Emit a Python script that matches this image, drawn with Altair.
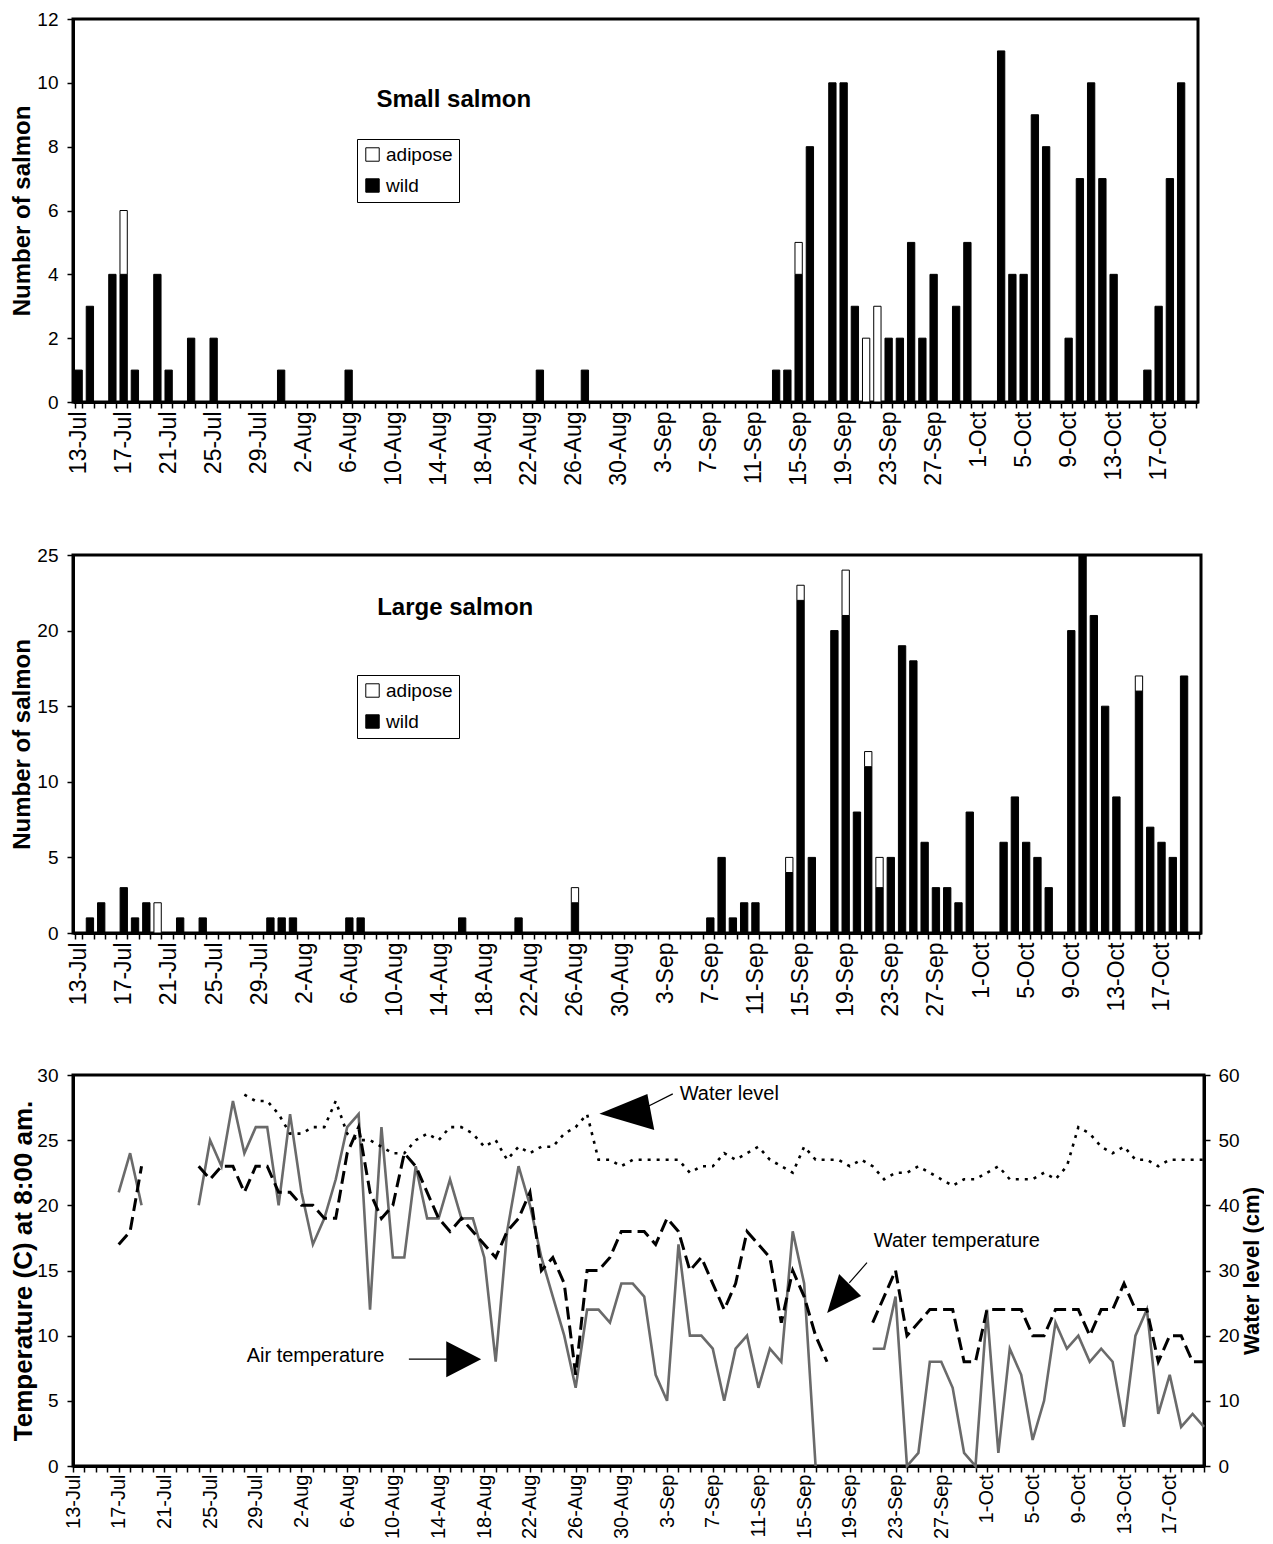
import datetime as dt
import altair as alt
import pandas as pd

FONT = "Liberation Sans"
START = dt.date(2001, 7, 13)
DATES = [f"{d.day}-{d.strftime('%b')}" for d in (START + dt.timedelta(days=i) for i in range(100))]
DAYS = list(range(100))

# ---- Small salmon (counts per day, index 0 = 13-Jul) ----
SMALL_WILD = [1, 3, 0, 4, 4, 1, 0, 4, 1, 0,
              2, 0, 2, 0, 0, 0, 0, 0, 1, 0,
              0, 0, 0, 0, 1, 0, 0, 0, 0, 0,
              0, 0, 0, 0, 0, 0, 0, 0, 0, 0,
              0, 1, 0, 0, 0, 1, 0, 0, 0, 0,
              0, 0, 0, 0, 0, 0, 0, 0, 0, 0,
              0, 0, 1, 1, 4, 8, 0, 10, 10, 3,
              0, 0, 2, 2, 5, 2, 4, 0, 3, 5,
              0, 0, 11, 4, 4, 9, 8, 0, 2, 7,
              10, 7, 4, 0, 0, 1, 3, 7, 10, 0]
SMALL_ADIPOSE = [0, 0, 0, 0, 2, 0, 0, 0, 0, 0,
                 0, 0, 0, 0, 0, 0, 0, 0, 0, 0,
                 0, 0, 0, 0, 0, 0, 0, 0, 0, 0,
                 0, 0, 0, 0, 0, 0, 0, 0, 0, 0,
                 0, 0, 0, 0, 0, 0, 0, 0, 0, 0,
                 0, 0, 0, 0, 0, 0, 0, 0, 0, 0,
                 0, 0, 0, 0, 1, 0, 0, 0, 0, 0,
                 2, 3, 0, 0, 0, 0, 0, 0, 0, 0,
                 0, 0, 0, 0, 0, 0, 0, 0, 0, 0,
                 0, 0, 0, 0, 0, 0, 0, 0, 0, 0]

# ---- Large salmon ----
LARGE_WILD = [0, 1, 2, 0, 3, 1, 2, 0, 0, 1,
              0, 1, 0, 0, 0, 0, 0, 1, 1, 1,
              0, 0, 0, 0, 1, 1, 0, 0, 0, 0,
              0, 0, 0, 0, 1, 0, 0, 0, 0, 1,
              0, 0, 0, 0, 2, 0, 0, 0, 0, 0,
              0, 0, 0, 0, 0, 0, 1, 5, 1, 2,
              2, 0, 0, 4, 22, 5, 0, 20, 21, 8,
              11, 3, 5, 19, 18, 6, 3, 3, 2, 8,
              0, 0, 6, 9, 6, 5, 3, 0, 20, 25,
              21, 15, 9, 0, 16, 7, 6, 5, 17, 0]
LARGE_ADIPOSE = [0, 0, 0, 0, 0, 0, 0, 2, 0, 0,
                 0, 0, 0, 0, 0, 0, 0, 0, 0, 0,
                 0, 0, 0, 0, 0, 0, 0, 0, 0, 0,
                 0, 0, 0, 0, 0, 0, 0, 0, 0, 0,
                 0, 0, 0, 0, 1, 0, 0, 0, 0, 0,
                 0, 0, 0, 0, 0, 0, 0, 0, 0, 0,
                 0, 0, 0, 1, 1, 0, 0, 0, 3, 0,
                 1, 2, 0, 0, 0, 0, 0, 0, 0, 0,
                 0, 0, 0, 0, 0, 0, 0, 0, 0, 0,
                 0, 0, 0, 0, 1, 0, 0, 0, 0, 0]

# ---- Temperatures (C) and water level (cm); None = no reading ----
N = None
AIR_TEMP = [N, N, N, N, 21, 24, 20, N, N, N,
            N, 20, 25, 23, 28, 24, 26, 26, 20, 27,
            21, 17, 19, 22, 26, 27, 12, 26, 16, 16,
            23, 19, 19, 22, 19, 19, 16, 8, 18, 23,
            20, 16, 13, 10, 6, 12, 12, 11, 14, 14,
            13, 7, 5, 17, 10, 10, 9, 5, 9, 10,
            6, 9, 8, 18, 14, 0, N, N, N, N,
            9, 9, 13, 0, 1, 8, 8, 6, 1, 0,
            12, 1, 9, 7, 2, 5, 11, 9, 10, 8,
            9, 8, 3, 10, 12, 4, 7, 3, 4, 3]
WATER_TEMP = [N, N, N, N, 17, 18, 23, N, N, N,
              N, 23, 22, 23, 23, 21, 23, 23, 21, 21,
              20, 20, 19, 19, 24, 26, 21, 19, 20, 24,
              23, 21, 19, 18, 19, 18, 17, 16, 18, 19,
              21, 15, 16, 14, 7, 15, 15, 16, 18, 18,
              18, 17, 19, 18, 15, 16, 14, 12, 14, 18,
              17, 16, 11, 15, 13, 10, 8, N, N, N,
              11, 13, 15, 10, 11, 12, 12, 12, 8, 8,
              12, 12, 12, 12, 10, 10, 12, 12, 12, 10,
              12, 12, 14, 12, 12, 8, 10, 10, 8, 8]
WATER_LEVEL = [N, N, N, N, N, N, N, N, N, N,
               N, N, N, N, N, 57, 56, 56, 54, 51,
               51, 52, 52, 56, 51, 50, 50, 49, 48, 48,
               50, 51, 50, 52, 52, 51, 49, 50, 47, 49,
               48, 49, 49, 51, 52, 54, 47, 47, 46, 47,
               47, 47, 47, 47, 45, 46, 46, 48, 47, 48,
               49, 47, 46, 45, 49, 47, 47, 47, 46, 47,
               46, 44, 45, 45, 46, 45, 44, 43, 44, 44,
               45, 46, 44, 44, 44, 45, 44, 46, 52, 51,
               49, 48, 49, 47, 47, 46, 47, 47, 47, 47]

# ---- Annotations on the bottom panel (day index, temperature units) ----
ANN_TEXT = ["Water level", "Water temperature", "Air temperature"]
ANN_TEXT_X = [53.1, 70.1, 15.2]
ANN_TEXT_Y = [28.55, 17.3, 8.45]
ANN_LINE_X = [50.0, 67.95, 29.4]
ANN_LINE_X2 = [52.5, 69.5, 32.75]
ANN_LINE_Y = [27.45, 14.05, 8.2]
ANN_LINE_Y2 = [28.55, 15.6, 8.2]
ARROW_X = [48.7, 67.5, 34.2]
ARROW_Y = [27.1, 13.2, 8.2]
ARROW_SHAPE = ["M-1,0.03L0.6,-0.63L0.83,0.57Z",
               "M-0.85,0.95L-0.25,-1L0.85,0.1Z",
               "M0.97,0L-0.97,-1L-0.97,1Z"]
ARROW_SIZE = [3600, 1600, 1296]

LABEL_ARR = "[" + ",".join(repr(d) for d in DATES) + "]"
LABEL_EXPR = f"datum.value % 4 == 0 ? {LABEL_ARR}[datum.value] : ''"

Y_EXT = 37


def bar_panel(wild, adipose, title, title_y, ymax, ystep, width, height, x_ext):
    rows = []
    for i in DAYS:
        if wild[i] > 0:
            rows.append({"day": i, "type": "wild", "n": wild[i], "ord": 0})
        if adipose[i] > 0:
            rows.append({"day": i, "type": "adipose", "n": adipose[i], "ord": 1})
    df = pd.DataFrame(rows)
    xscale = alt.Scale(domain=DAYS, paddingInner=0.35, paddingOuter=0.175)
    xaxis = alt.Axis(title=None, labelExpr=LABEL_EXPR, labelAngle=270, labelAlign="right",
                     labelBaseline="middle", labelOverlap=False, tickBand="extent", tickSize=6,
                     labelPadding=3, labelFontSize=23, minExtent=x_ext, maxExtent=x_ext)
    yscale = alt.Scale(domain=[0, ymax], nice=False)
    yaxis = alt.Axis(title="Number of salmon", values=list(range(0, ymax + 1, ystep)),
                     tickSize=6, labelPadding=9, minExtent=Y_EXT, maxExtent=Y_EXT, titlePadding=2)
    bars = alt.Chart(df).mark_bar(stroke="black", strokeWidth=1).encode(
        x=alt.X("day:O", scale=xscale, axis=xaxis),
        y=alt.Y("n:Q", stack="zero", scale=yscale, axis=yaxis),
        color=alt.Color("type:N",
                        scale=alt.Scale(domain=["adipose", "wild"], range=["white", "black"]),
                        legend=alt.Legend(title=None, orient="none", legendX=284, legendY=120,
                                          direction="vertical", strokeColor="black", fillColor="white",
                                          padding=6, symbolType="square", symbolSize=180,
                                          symbolStrokeColor="black", symbolStrokeWidth=1,
                                          labelFontSize=19, labelColor="black", rowPadding=11,
                                          labelOffset=4)),
        order=alt.Order("ord:Q", sort="ascending"),
    )
    tdf = pd.DataFrame({"day": [27], "n": [title_y], "label": [title]})
    txt = alt.Chart(tdf).mark_text(align="left", baseline="middle", fontSize=24,
                                   fontWeight="bold", dx=-6, color="black").encode(
        x=alt.X("day:O", scale=xscale, axis=xaxis),
        y=alt.Y("n:Q", scale=yscale, axis=yaxis),
        text="label:N",
    )
    return alt.layer(bars, txt).properties(width=width, height=height)


def line_df(values, name):
    rows, seg, prev_none = [], 0, False
    for i, v in enumerate(values):
        if v is None:
            if not prev_none:
                seg += 1
            prev_none = True
            continue
        prev_none = False
        rows.append({"day": i, name: v, "seg": seg})
    return pd.DataFrame(rows)


top = bar_panel(SMALL_WILD, SMALL_ADIPOSE, "Small salmon", 9.45, 12, 2, 1125, 383, 94)
mid = bar_panel(LARGE_WILD, LARGE_ADIPOSE, "Large salmon", 21.5, 25, 5, 1128, 378, 77)

x_bot = alt.X("day:Q", scale=alt.Scale(domain=[0, 99], nice=False, zero=False),
              axis=alt.Axis(title=None, values=DAYS, labelExpr=LABEL_EXPR, labelAngle=270,
                            labelAlign="right", labelBaseline="middle", labelOverlap=False,
                            labelFlush=False, tickSize=6, labelPadding=2, labelFontSize=20,
                            minExtent=70, maxExtent=70))
y_temp = alt.Y("v:Q", scale=alt.Scale(domain=[0, 30], nice=False),
               axis=alt.Axis(title="Temperature (C) at 8:00 am.", values=list(range(0, 31, 5)),
                             titleFontSize=26, tickSize=6, labelPadding=9,
                             minExtent=Y_EXT, maxExtent=Y_EXT, titlePadding=0))

air = alt.Chart(line_df(AIR_TEMP, "v")).mark_line(color="#6a6a6a", strokeWidth=2.6).encode(
    x=x_bot, y=y_temp, detail="seg:N")
wtemp = alt.Chart(line_df(WATER_TEMP, "v")).mark_line(
    color="black", strokeWidth=3, strokeDash=[13, 6]).encode(x=x_bot, y=y_temp, detail="seg:N")

ann_text = alt.Chart(pd.DataFrame({"day": ANN_TEXT_X, "v": ANN_TEXT_Y, "t": ANN_TEXT})).mark_text(
    align="left", baseline="middle", fontSize=20, color="black").encode(x=x_bot, y=y_temp, text="t:N")
ann_rule = alt.Chart(pd.DataFrame({"day": ANN_LINE_X, "day2": ANN_LINE_X2,
                                   "v": ANN_LINE_Y, "v2": ANN_LINE_Y2})).mark_rule(
    color="black", strokeWidth=1.2).encode(x=x_bot, x2="day2:Q", y=y_temp, y2="v2:Q")
arrows = []
for ax, ay, shp, sz in zip(ARROW_X, ARROW_Y, ARROW_SHAPE, ARROW_SIZE):
    arrows.append(alt.Chart(pd.DataFrame({"day": [ax], "v": [ay]})).mark_point(
        shape=shp, size=sz, filled=True, color="black", opacity=1).encode(x=x_bot, y=y_temp))

left_group = alt.layer(air, wtemp, ann_text, ann_rule, *arrows)

wlevel = alt.Chart(line_df(WATER_LEVEL, "wl")).mark_line(
    color="black", strokeWidth=2.6, strokeDash=[3, 6]).encode(
    x=x_bot,
    y=alt.Y("wl:Q", scale=alt.Scale(domain=[0, 60], nice=False),
            axis=alt.Axis(orient="right", title="Water level (cm)", values=list(range(0, 61, 10)),
                          titleAngle=270, titleBaseline="top", titleFontSize=22, tickSize=6,
                          labelPadding=8, titlePadding=2)),
    detail="seg:N")

bottom = alt.layer(left_group, wlevel).resolve_scale(y="independent").properties(width=1131, height=391)

chart = alt.vconcat(top, mid, bottom, spacing=46).resolve_scale(
    color="independent").resolve_legend(color="independent").properties(
    padding={"left": 0, "top": 0, "right": 0, "bottom": 0}
).configure_axis(
    labelFont=FONT, titleFont=FONT, labelColor="black", titleColor="black",
    domainColor="black", tickColor="black", grid=False, domainWidth=3, tickWidth=1.5,
    labelFontSize=19, titleFontSize=24, titleFontWeight="bold"
).configure_view(stroke="black", strokeWidth=3).configure_legend(
    labelFont=FONT).configure_text(font=FONT)

chart.save("out.html", embed_options={"renderer": "svg", "actions": False})
